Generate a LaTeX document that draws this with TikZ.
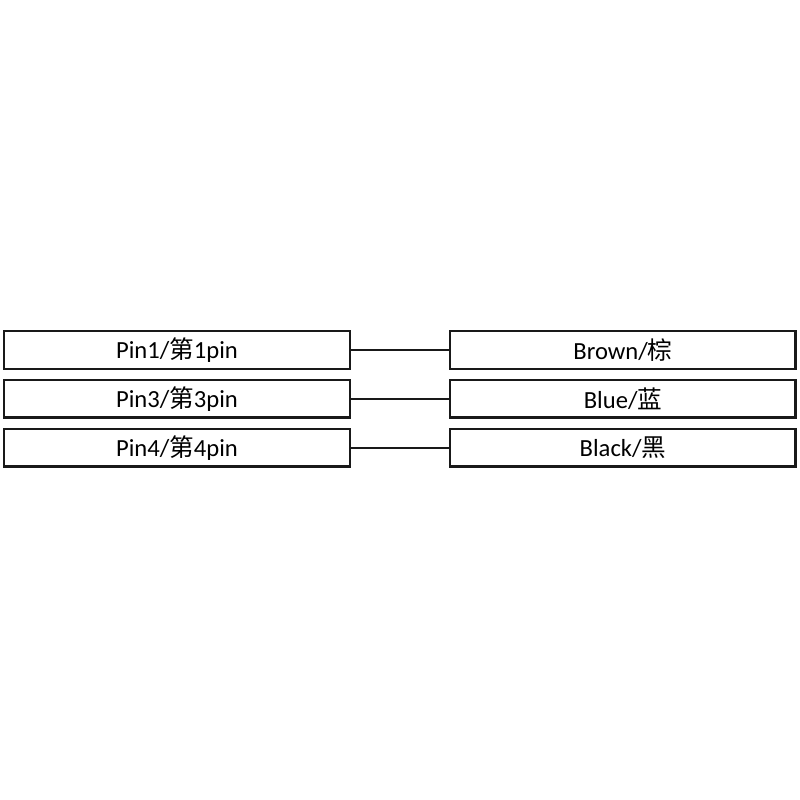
\documentclass[tikz,border=0pt]{standalone}
\usepackage{fontspec}
\setmainfont{Carlito}
\newfontfamily\cjk{Noto Sans CJK SC}
\usetikzlibrary{positioning}

\tikzset{
  wirebox/.style={draw=black!90, line width=0.7pt, minimum width=3.455cm, minimum height=0.375cm, inner sep=0pt, font=\fontsize{7}{8}\selectfont},
  wire/.style={draw=black!90, line width=0.55pt}
}

\begin{document}
\begin{tikzpicture}
        \useasboundingbox (0,0) rectangle (8,8);

        \node[wirebox] (pin1) at (1.77,4.5) {Pin1/{\cjk 第}1pin};
        \node[wirebox, below=0.09cm of pin1] (pin3) {Pin3/{\cjk 第}3pin};
        \node[wirebox, below=0.09cm of pin3] (pin4) {Pin4/{\cjk 第}4pin};

        \node[wirebox, right=0.98cm of pin1] (brown) {Brown/{\cjk 棕}};
        \node[wirebox, right=0.98cm of pin3] (blue) {Blue/{\cjk 蓝}};
        \node[wirebox, right=0.98cm of pin4] (black) {Black/{\cjk 黑}};

        \draw[wire]
        (pin1) -- (brown)
        (pin3) -- (blue)
        (pin4) -- (black);
      \end{tikzpicture}
\end{document}
